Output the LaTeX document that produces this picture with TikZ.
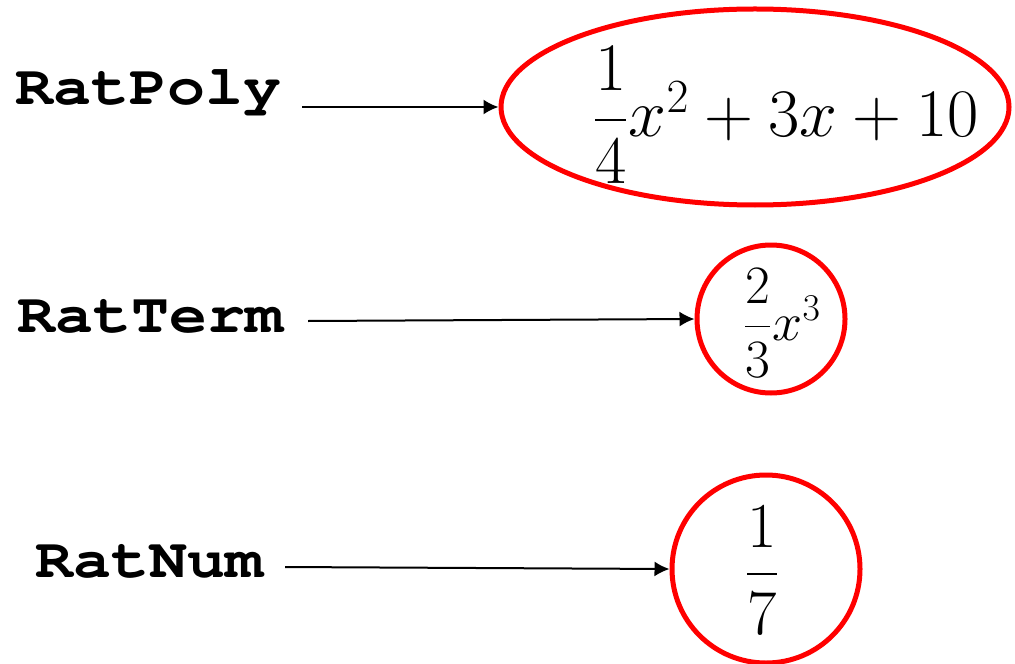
\RequirePackage{fix-cm}
\documentclass[tikz,border=0pt]{standalone}
\usepackage{amsmath}
\usepackage[T1,TU]{fontenc}
\usepackage{graphicx}
\usepackage{tikz}
\usetikzlibrary{arrows.meta,shapes.geometric}
\definecolor{ringred}{HTML}{FF0000}

% wide bold typewriter for the class names
\newcommand{\codelbl}[1]{{\fontencoding{T1}\fontfamily{pcr}\fontseries{b}\fontsize{28}{32}\selectfont\scalebox{1.13}[1]{#1}}}

\begin{document}
\begin{tikzpicture}[x=0.5pt,y=-0.5pt,>=Latex]

\tikzset{
lbl/.style={inner sep=0pt,anchor=base west},
ring/.style={draw=ringred,line width=2.5pt,circle,inner sep=0pt},
oval/.style={draw=ringred,line width=2.5pt,ellipse,inner sep=0pt},
a/.style={->,line width=1pt,>={Latex[length=7.5pt,width=7.5pt]}}
}

\useasboundingbox (0,0) rectangle (1015,663);

% class names
\node[lbl] (polylbl) at (15,105) {\codelbl{RatPoly}};
\node[lbl] (termlbl) at (17,332) {\codelbl{RatTerm}};
\node[lbl] (numlbl) at (35,577) {\codelbl{RatNum}};

% objects
\node[oval,minimum width=254pt,minimum height=98pt] (poly) at (755,107) {};
\node[anchor=base,inner sep=0pt] (polyexpr) at (786,137)
  {\fontsize{34}{40}\selectfont$\dfrac{1}{4}x^2+3x+10$};

\node[ring,minimum size=74pt] (term) at (771,319) {};
\node[anchor=base,inner sep=0pt] (termexpr) at (782,340)
  {\fontsize{27}{32}\selectfont$\dfrac{2}{3}x^3$};

\node[ring,minimum size=94pt] (num) at (766,569) {};
\node[inner sep=0pt] (numexpr) at (762,570)
  {\fontsize{32}{38}\selectfont$\dfrac{1}{7}$};

% pointers
\coordinate (polytail) at (302,107);
\coordinate (termtail) at (308,321);
\coordinate (numtail) at (285,567);

\draw[a] (polytail) -- (poly.west);
\draw[a] (termtail) -- (term.west);
\draw[a] (numtail) -- (num.west);

\end{tikzpicture}
\end{document}
